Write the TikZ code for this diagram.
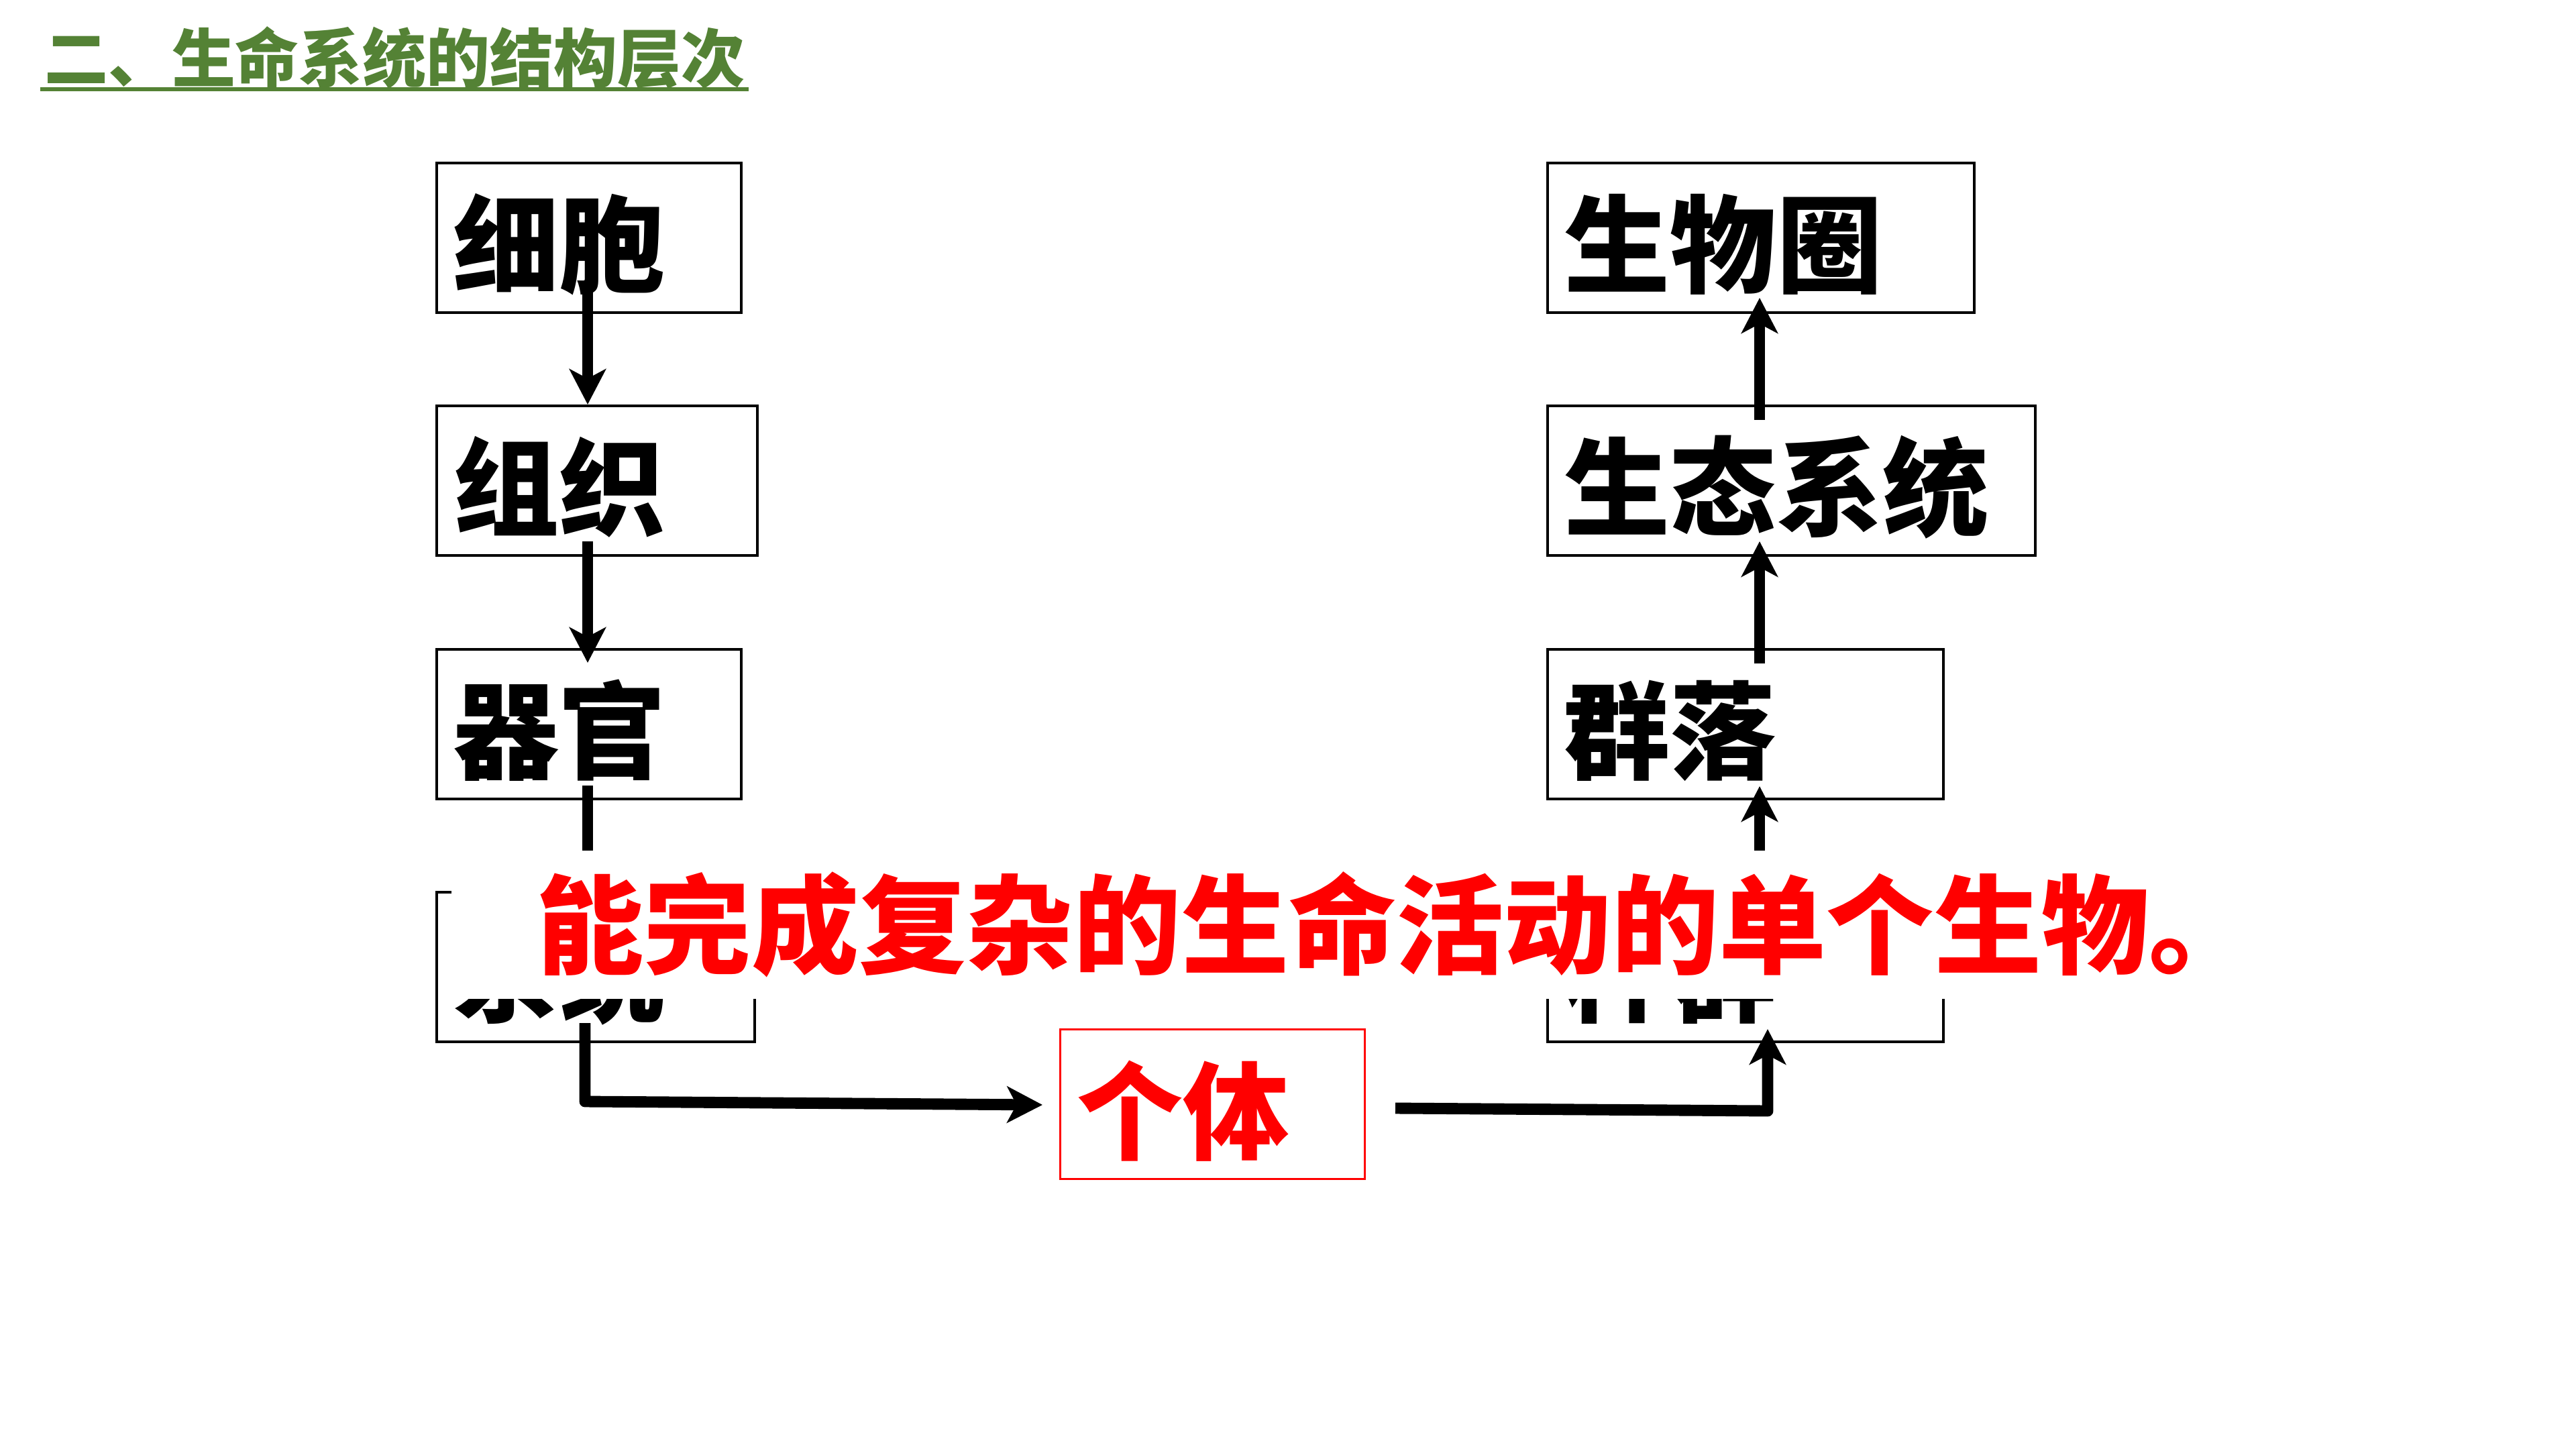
\documentclass[tikz,border=0pt]{standalone}
\usepackage{fontspec}
\newfontfamily\cjk{Noto Sans CJK SC}
\usetikzlibrary{arrows.meta}
\definecolor{titlegreen}{RGB}{84,130,53}
\definecolor{pptred}{RGB}{255,0,0}
\begin{document}
\begin{tikzpicture}[
  lbl/.style={font=\cjk\bfseries\fontsize{45pt}{50pt}\selectfont},
  box/.style={draw=black, line width=1pt, anchor=north west, minimum height=2.23cm,
    inner xsep=0.25cm, inner ysep=0pt, align=left, lbl,
    text height=41pt, text depth=1pt},
  redbox/.style={box, draw=pptred, line width=0.8pt, text=pptred},
  conn/.style={line width=4.8pt, line join=round,
    -{Stealth[length=15pt, width=15.4pt, inset=4pt]}},
  overlay/.style={fill=white, anchor=north west, inner sep=0pt,
    minimum width=27.28cm, minimum height=2.21cm, text=pptred,
    font=\cjk\bfseries\fontsize{45.6pt}{50pt}\selectfont},
  titlestyle/.style={anchor=south west, inner sep=0pt, minimum width=10.55cm,
    text=titlegreen, font=\cjk\bfseries\fontsize{27pt}{30pt}\selectfont},
  ul/.style={draw=titlegreen, line width=1.7pt}
]
\fill[white] (0,0) rectangle (38.4,-21.6);
\useasboundingbox (0,0) rectangle (38.4,-21.6);

% title
\node[titlestyle] (title) at (0.60,-1.33) {二、生命系统的结构层次};
\draw[ul] (title.south west) -- (title.south east);

% left column
\node[box, text width=4.04cm] (b1) at (6.49,-2.41) {细胞};
\node[box, text width=4.28cm] (b2) at (6.49,-6.03) {组织};
\node[box, text width=4.04cm] (b3) at (6.49,-9.66) {器官};
\node[box, text width=4.24cm] (b4) at (6.49,-13.28) {系统};
\node[redbox, text width=4.04cm] (b5) at (15.79,-15.33) {个体};

% right column
\node[box, text width=5.86cm] (r1) at (23.05,-2.41) {生物圈};
\node[box, text width=6.77cm] (r2) at (23.05,-6.03) {生态系统};
\node[box, text width=5.40cm] (r3) at (23.05,-9.66) {群落};
\node[box, text width=5.40cm] (r4) at (23.05,-13.28) {种群};

% connector end points
\coordinate (a1s) at (8.76,-4.19);
\coordinate (a2s) at (8.76,-8.07);
\coordinate (a2e) at (8.76,-9.88);
\coordinate (a3s) at (8.76,-11.71);
\coordinate (a3e) at (8.76,-13.50);
\coordinate (a4s) at (8.72,-15.25);
\coordinate (a4c) at (8.72,-16.42);
\coordinate (a4e) at (15.54,-16.47);
\coordinate (a5s) at (20.80,-16.52);
\coordinate (a5c) at (26.35,-16.56);
\coordinate (a5e) at (26.35,-15.34);
\coordinate (a6s) at (26.23,-14.00);
\coordinate (a6e) at (26.23,-11.72);
\coordinate (a7s) at (26.23,-9.89);
\coordinate (a7e) at (26.23,-8.07);
\coordinate (a8s) at (26.23,-6.26);
\coordinate (a8e) at (26.23,-4.44);

\draw[conn] (a1s) -- (a1s |- b2.north);
\draw[conn] (a2s) -- (a2e);
\draw[conn] (a3s) -- (a3e);
\draw[conn] (a4s) -- (a4c) -- (a4e);
\draw[conn] (a5s) -- (a5c) -- (a5e);
\draw[conn] (a6s) -- (a6e);
\draw[conn] (a7s) -- (a7e);
\draw[conn] (a8s) -- (a8e);

% overlay caption
\node[overlay] (cap) at (6.72,-12.67) {\hspace*{0.9cm}能完成复杂的生命活动的单个生物。};
\end{tikzpicture}
\end{document}
